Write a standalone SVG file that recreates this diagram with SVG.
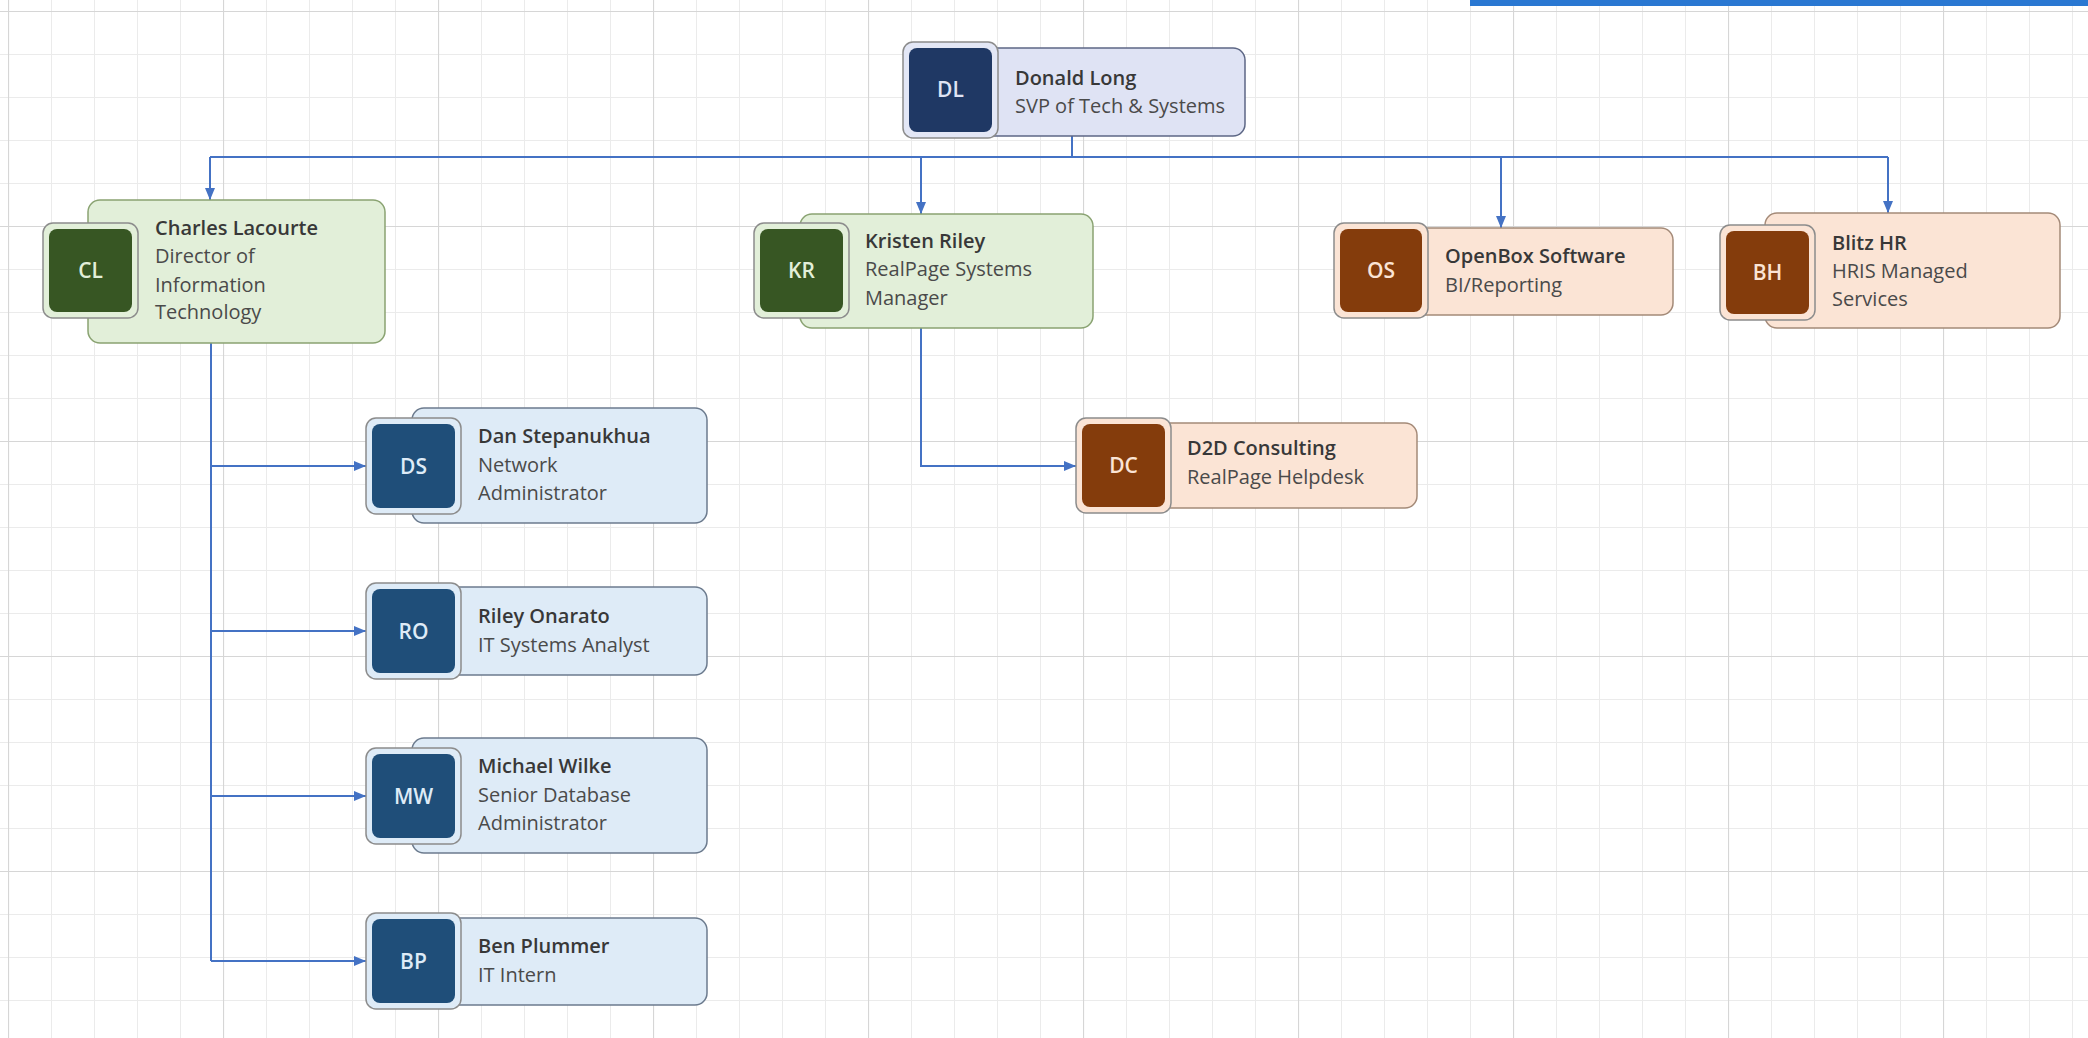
<svg xmlns="http://www.w3.org/2000/svg" width="2088" height="1038" viewBox="0 0 2088 1038">
<defs>
  <pattern id="minor" width="43" height="43" patternUnits="userSpaceOnUse" x="8" y="11">
    <path d="M0.5,0 V43 M0,0.5 H43" stroke="#ebebeb" stroke-width="1" fill="none"/>
  </pattern>
  <pattern id="major" width="215" height="215" patternUnits="userSpaceOnUse" x="8" y="11">
    <path d="M0.5,0 V215 M0,0.5 H215" stroke="#d6d6d6" stroke-width="1.2" fill="none"/>
  </pattern>
  <marker id="arr" viewBox="0 0 12 10" refX="12" refY="5" markerWidth="12" markerHeight="10" markerUnits="userSpaceOnUse" orient="auto">
    <path d="M0,0 L12,5 L0,10 Z" fill="#4472c4"/>
  </marker>
  <style>
    .conn{fill:none;stroke:#4472c4;stroke-width:2}
    .nm{font-family:"Open Sans","Liberation Sans",sans-serif;font-size:20px;font-weight:600;fill:#383838}
    .sb{font-family:"Open Sans","Liberation Sans",sans-serif;font-size:20px;fill:#4a4a4a}
    .ini{font-family:"Open Sans","Liberation Sans",sans-serif;font-size:21px;font-weight:600;text-anchor:middle}
    .ring{stroke:#8c8c8c;stroke-width:1.5}
    .navy .box{fill:#dfe3f4;stroke:#5d6785;stroke-width:1.5}
    .navy .ring{fill:#e3e7f6}
    .navy .core{fill:#1f3864}
    .navy .ini{fill:#dfe3f4}
    .green .box{fill:#e2efd9;stroke:#8aa372;stroke-width:1.5}
    .green .ring{fill:#e2efd9}
    .green .core{fill:#375623}
    .green .ini{fill:#e2efd9}
    .brown .box{fill:#fbe4d5;stroke:#a48a78;stroke-width:1.5}
    .brown .ring{fill:#fbe4d5}
    .brown .core{fill:#843c0c}
    .brown .ini{fill:#fbe4d5}
    .blue .box{fill:#deebf7;stroke:#6c7b8e;stroke-width:1.5}
    .blue .ring{fill:#deebf7}
    .blue .core{fill:#1f4e79}
    .blue .ini{fill:#deebf7}
  </style>
</defs>
<rect width="2088" height="1038" fill="#ffffff"/>
<rect width="2088" height="1038" fill="url(#minor)"/>
<rect width="2088" height="1038" fill="url(#major)"/>
<rect x="1470" y="0" width="618" height="6" fill="#2a78d2"/>

<g id="connectors">
  <path class="conn" d="M1072,136 V157"/>
  <path class="conn" d="M210,157 H1888"/>
  <path class="conn" d="M210,157 V200" marker-end="url(#arr)"/>
  <path class="conn" d="M921,157 V214" marker-end="url(#arr)"/>
  <path class="conn" d="M1501,157 V228" marker-end="url(#arr)"/>
  <path class="conn" d="M1888,157 V213" marker-end="url(#arr)"/>
  <path class="conn" d="M211,343 V961"/>
  <path class="conn" d="M211,466 H366" marker-end="url(#arr)"/>
  <path class="conn" d="M211,631 H366" marker-end="url(#arr)"/>
  <path class="conn" d="M211,796 H366" marker-end="url(#arr)"/>
  <path class="conn" d="M211,961 H366" marker-end="url(#arr)"/>
  <path class="conn" d="M921,328 V466 H1076" marker-end="url(#arr)"/>
</g>

<g id="node-DL" class="navy">
  <rect class="box" x="950" y="48" width="295" height="88" rx="12"/>
  <rect class="ring" x="903" y="42" width="95" height="96" rx="10"/>
  <rect class="core" x="909" y="48" width="83" height="84" rx="8"/>
  <text class="ini" x="950.5" y="97">DL</text>
  <text class="nm" x="1015" y="85">Donald Long</text>
  <text class="sb" x="1015" y="113">SVP of Tech &amp; Systems</text>
</g>

<g id="node-CL" class="green">
  <rect class="box" x="88" y="200" width="297" height="143" rx="12"/>
  <rect class="ring" x="43" y="223" width="95" height="95" rx="10"/>
  <rect class="core" x="49" y="229" width="83" height="83" rx="8"/>
  <text class="ini" x="90.5" y="278">CL</text>
  <text class="nm" x="155" y="235">Charles Lacourte</text>
  <text class="sb" x="155" y="263">Director of</text>
  <text class="sb" x="155" y="292">Information</text>
  <text class="sb" x="155" y="319">Technology</text>
</g>

<g id="node-KR" class="green">
  <rect class="box" x="800" y="214" width="293" height="114" rx="12"/>
  <rect class="ring" x="754" y="223" width="95" height="95" rx="10"/>
  <rect class="core" x="760" y="229" width="83" height="83" rx="8"/>
  <text class="ini" x="801.5" y="278">KR</text>
  <text class="nm" x="865" y="248">Kristen Riley</text>
  <text class="sb" x="865" y="276">RealPage Systems</text>
  <text class="sb" x="865" y="305">Manager</text>
</g>

<g id="node-OS" class="brown">
  <rect class="box" x="1380" y="228" width="293" height="87" rx="12"/>
  <rect class="ring" x="1334" y="223" width="94" height="95" rx="10"/>
  <rect class="core" x="1340" y="229" width="82" height="83" rx="8"/>
  <text class="ini" x="1381" y="278">OS</text>
  <text class="nm" x="1445" y="263">OpenBox Software</text>
  <text class="sb" x="1445" y="292">BI/Reporting</text>
</g>

<g id="node-BH" class="brown">
  <rect class="box" x="1765" y="213" width="295" height="115" rx="12"/>
  <rect class="ring" x="1720" y="225" width="95" height="95" rx="10"/>
  <rect class="core" x="1726" y="231" width="83" height="83" rx="8"/>
  <text class="ini" x="1767.5" y="280">BH</text>
  <text class="nm" x="1832" y="250">Blitz HR</text>
  <text class="sb" x="1832" y="278">HRIS Managed</text>
  <text class="sb" x="1832" y="306">Services</text>
</g>

<g id="node-DC" class="brown">
  <rect class="box" x="1122" y="423" width="295" height="85" rx="12"/>
  <rect class="ring" x="1076" y="418" width="95" height="95" rx="10"/>
  <rect class="core" x="1082" y="424" width="83" height="83" rx="8"/>
  <text class="ini" x="1123.5" y="473">DC</text>
  <text class="nm" x="1187" y="455">D2D Consulting</text>
  <text class="sb" x="1187" y="484">RealPage Helpdesk</text>
</g>

<g id="node-DS" class="blue">
  <rect class="box" x="412" y="408" width="295" height="115" rx="12"/>
  <rect class="ring" x="366" y="418" width="95" height="96" rx="10"/>
  <rect class="core" x="372" y="424" width="83" height="84" rx="8"/>
  <text class="ini" x="413.5" y="474">DS</text>
  <text class="nm" x="478" y="443">Dan Stepanukhua</text>
  <text class="sb" x="478" y="472">Network</text>
  <text class="sb" x="478" y="500">Administrator</text>
</g>

<g id="node-RO" class="blue">
  <rect class="box" x="412" y="587" width="295" height="88" rx="12"/>
  <rect class="ring" x="366" y="583" width="95" height="96" rx="10"/>
  <rect class="core" x="372" y="589" width="83" height="84" rx="8"/>
  <text class="ini" x="413.5" y="639">RO</text>
  <text class="nm" x="478" y="623">Riley Onarato</text>
  <text class="sb" x="478" y="652">IT Systems Analyst</text>
</g>

<g id="node-MW" class="blue">
  <rect class="box" x="412" y="738" width="295" height="115" rx="12"/>
  <rect class="ring" x="366" y="748" width="95" height="96" rx="10"/>
  <rect class="core" x="372" y="754" width="83" height="84" rx="8"/>
  <text class="ini" x="413.5" y="804">MW</text>
  <text class="nm" x="478" y="773">Michael Wilke</text>
  <text class="sb" x="478" y="802">Senior Database</text>
  <text class="sb" x="478" y="830">Administrator</text>
</g>

<g id="node-BP" class="blue">
  <rect class="box" x="412" y="918" width="295" height="87" rx="12"/>
  <rect class="ring" x="366" y="913" width="95" height="96" rx="10"/>
  <rect class="core" x="372" y="919" width="83" height="84" rx="8"/>
  <text class="ini" x="413.5" y="969">BP</text>
  <text class="nm" x="478" y="953">Ben Plummer</text>
  <text class="sb" x="478" y="982">IT Intern</text>
</g>
</svg>
